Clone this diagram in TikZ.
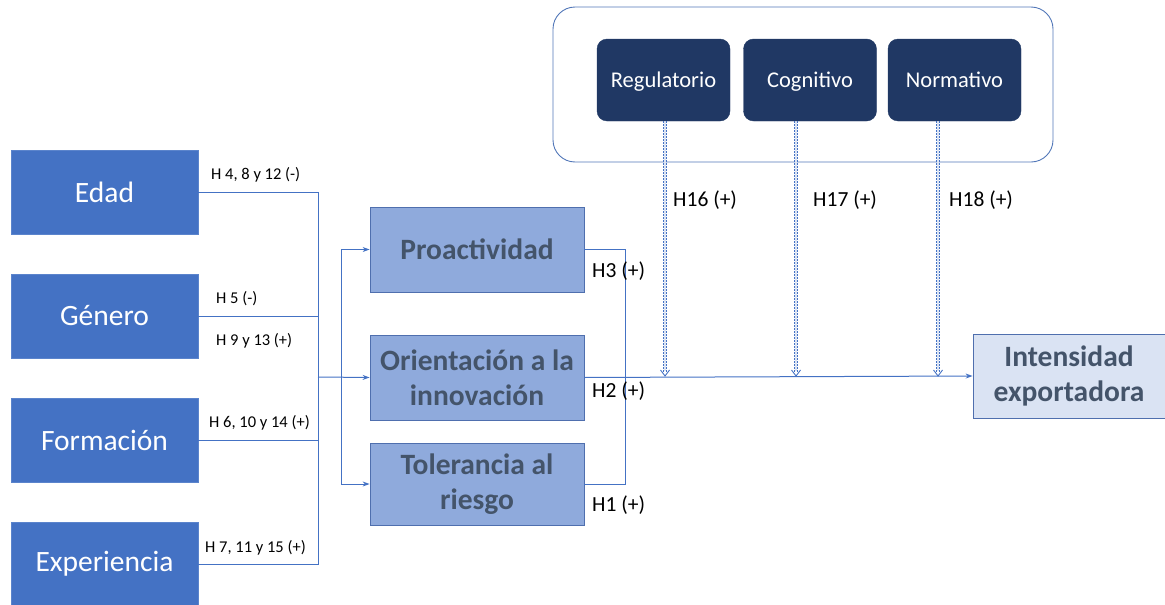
\documentclass[tikz,border=0pt]{standalone}
\usepackage{fontspec}
\setmainfont{Carlito}
\usetikzlibrary{arrows.meta}
\definecolor{boxblue}{HTML}{4472C4}
\definecolor{boxedge}{HTML}{5B84CC}
\definecolor{midblue}{HTML}{8FAADC}
\definecolor{midedge}{HTML}{4F6FAE}
\definecolor{midtext}{HTML}{44546A}
\definecolor{navy}{HTML}{203864}
\definecolor{paleblue}{HTML}{DAE3F3}
\definecolor{linkblue}{HTML}{4472C4}
\tikzset{
  leftbox/.style={draw=boxedge, line width=0.8pt, fill=boxblue, text=white,
    minimum width=187pt, minimum height=84pt, inner sep=0pt,
    font=\fontsize{29.5}{34}\selectfont},
  midbox/.style={draw=midedge, line width=0.8pt, fill=midblue, text=midtext,
    minimum width=214pt, inner sep=0pt, align=center,
    font=\fontsize{29.5}{35}\selectfont\bfseries},
  inst/.style={draw=navy, fill=navy, text=white, rounded corners=10pt,
    minimum width=133pt, minimum height=82pt, inner sep=0pt,
    text height=15pt, text depth=1pt,
    font=\fontsize{22.5}{26}\selectfont},
  outbox/.style={draw=midedge, line width=0.8pt, fill=paleblue, text=midtext,
    minimum width=192pt, minimum height=84pt, inner sep=0pt, align=center,
    font=\fontsize{29.5}{35}\selectfont\bfseries},
  link/.style={draw=linkblue, line width=1pt},
  arr/.style={link, -{Stealth[length=7pt,width=5pt]}},
  modline/.style={draw=linkblue, dash pattern=on 2pt off 1pt, line width=0.9pt},
  modhead/.style={draw=linkblue, line width=0.9pt},
  modfill/.style={draw=paleblue, line width=2pt},
  hyp/.style={font=\fontsize{16.5}{18}\selectfont, inner sep=0pt, anchor=west},
  hypb/.style={font=\fontsize{21.5}{24}\selectfont, inner sep=0pt, anchor=west},
}
\begin{document}
\begin{tikzpicture}[x=1pt,y=-1pt]
\useasboundingbox (0,0) rectangle (1165,605);
\begin{scope}
\clip (0,0) rectangle (1165,605);

% institutional context frame
\draw[draw=boxedge!90!black, line width=0.9pt, rounded corners=22pt] (553,7) rectangle (1053,162);
\node[inst] (reg) at (663.5,80) {Regulatorio};
\node[inst] (cog) at (810,80) {Cognitivo};
\node[inst] (nor) at (954.5,80) {Normativo};

% individual characteristics
\node[leftbox] (eda) at (104.5,192) {Edad};
\node[leftbox] (gen) at (104.5,316) {Género};
\node[leftbox] (for) at (104.5,440) {Formación};
\node[leftbox] (exp) at (104.5,564) {Experiencia};

% entrepreneurial orientation
\node[midbox, minimum height=85pt] (pro) at (477,249.5) {Proactividad};
\node[midbox, minimum height=85pt] (ori) at (477,377.5) {Orientación a la\\innovación};
\node[midbox, minimum height=82pt] (tol) at (477,484) {Tolerancia al\\riesgo};

% outcome
\node[outbox] (int) at (1069,376) {Intensidad\\exportadora};

% junctions
\coordinate (bj) at (318,377);
\coordinate (sp) at (341,377);
\coordinate (mj) at (625,377);

% left bus
\draw[link] (eda.east) -| (bj);
\draw[link] (gen.east) -| (bj);
\draw[link] (for.east) -| (bj);
\draw[link] (exp.east) -| (bj);
\draw[arr] (bj) -- (ori.west);
\draw[arr] (sp) |- (pro.west);
\draw[arr] (sp) |- (tol.west);

% right bus
\draw[link] (pro.east) -| (mj);
\draw[link] (tol.east) -| (mj);
\draw[arr] (ori.east) -- (int.west);

% moderating effects: hollow double dashed arrows, leaving each box off-centre
\foreach \n/\dx in {reg/1.5, cog/-14, nor/-16.5}{
  \coordinate (\n-top) at ([xshift=\dx pt]\n.south);
  \coordinate (\n-end) at (\n-top |- int.west);
  \draw[modfill] ([yshift=-1pt]\n-top) -- ([yshift=5pt]\n-end);
  \draw[modline] ([xshift=-1.8pt]\n-top) -- ([xshift=-1.8pt,yshift=4pt]\n-end);
  \draw[modline] ([xshift=1.8pt]\n-top) -- ([xshift=1.8pt,yshift=4pt]\n-end);
  \draw[modhead] ([xshift=-4.5pt,yshift=6pt]\n-end) -- (\n-end) -- ([xshift=4.5pt,yshift=6pt]\n-end);
}

% hypothesis labels
\node[hyp] (h4) at (211,175) {H 4, 8 y 12 (-)};
\node[hyp] (h5) at (216,299) {H 5 (-)};
\node[hyp] (h9) at (216,341) {H 9 y 13 (+)};
\node[hyp] (h6) at (209,423) {H 6, 10 y 14 (+)};
\node[hyp] (h7) at (205,548) {H 7, 11 y 15 (+)};

\node[hypb] (h3) at (592,271) {H3 (+)};
\node[hypb] (h2) at (592,391) {H2 (+)};
\node[hypb] (h1) at (592,505) {H1 (+)};

\node[hypb] (h16) at (673,200) {H16 (+)};
\node[hypb] (h17) at (813,200) {H17 (+)};
\node[hypb] (h18) at (949,200) {H18 (+)};
\end{scope}
\end{tikzpicture}
\end{document}
